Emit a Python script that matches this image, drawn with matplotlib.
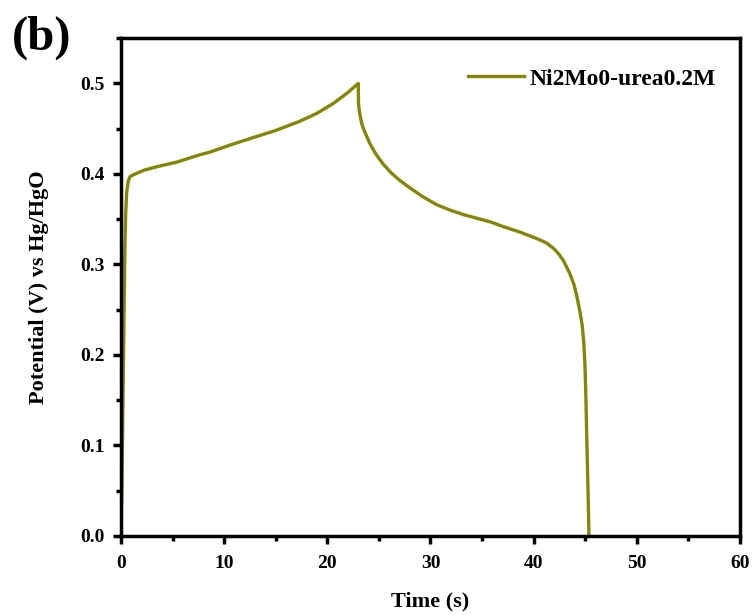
import matplotlib
matplotlib.use("Agg")
import matplotlib.pyplot as plt
from matplotlib.ticker import MultipleLocator

# Galvanostatic charge-discharge curve
time_s = [0.0, 0.08, 0.15, 0.22, 0.3, 0.38, 0.45, 0.55, 0.7, 0.87, 1.2, 1.6, 2.2,
          3.5, 5.4, 7.6, 8.6, 10.6, 12.5, 15.0, 17.3, 19.0, 20.6, 22.0, 23.0,
          23.02, 23.1, 23.2, 23.33, 23.5, 23.8, 24.13, 24.7, 25.4, 26.2, 27.0,
          28.2, 29.3, 30.6, 31.9, 33.2, 34.5, 35.8, 37.0, 38.6, 40.3, 41.2,
          41.9, 42.4, 42.9, 43.5, 43.9, 44.2, 44.5, 44.7, 44.85, 44.97, 45.06,
          45.14, 45.25, 45.3, 45.36]
potential_v = [0.0, 0.05, 0.11, 0.18, 0.25, 0.32, 0.355, 0.38, 0.392, 0.397, 0.399,
               0.401, 0.404, 0.408, 0.413, 0.421, 0.424, 0.432, 0.439, 0.448,
               0.458, 0.467, 0.478, 0.490, 0.500,
               0.478, 0.470, 0.463, 0.456, 0.450, 0.442, 0.4334, 0.422, 0.411,
               0.401, 0.393, 0.383, 0.3745, 0.366, 0.360, 0.355, 0.351, 0.347,
               0.342, 0.336, 0.3286, 0.324, 0.318, 0.312, 0.304, 0.290, 0.278,
               0.264, 0.247, 0.233, 0.215, 0.190, 0.155, 0.113, 0.06, 0.035, 0.0]

series_label = "Ni2Mo0-urea0.2M"
x_ticks = [0, 10, 20, 30, 40, 50, 60]
y_ticks = [0.0, 0.1, 0.2, 0.3, 0.4, 0.5]

plt.rcParams['font.family'] = ['Liberation Serif', 'DejaVu Serif']
plt.rcParams['font.weight'] = 'bold'

fig = plt.figure(figsize=(7.53, 6.15), dpi=100)
ax = fig.add_axes([0.1607, 0.1285, 0.822, 0.8095])

color = '#858508'
ax.plot(time_s, potential_v, color=color, lw=2.4, label=series_label)

ax.set_xlim(0, 60)
ax.set_ylim(0, 0.55)
ax.set_xticks(x_ticks)
ax.set_yticks(y_ticks)
ax.set_xticklabels([str(v) for v in x_ticks])
ax.set_yticklabels([f"{v:.1f}" for v in y_ticks])
ax.xaxis.set_minor_locator(MultipleLocator(5))
ax.yaxis.set_minor_locator(MultipleLocator(0.05))

for s in ax.spines.values():
    s.set_linewidth(2.5)
ax.tick_params(which='major', direction='out', length=6, width=2.5,
               labelsize=14)
ax.tick_params(axis='x', which='major', pad=8)
ax.tick_params(axis='y', which='major', pad=6)
ax.tick_params(which='minor', direction='out', length=3.5, width=2.5)
ax.tick_params(top=False, right=False, which='both')

ax.set_xlabel("Time (s)", fontsize=16, fontweight='bold', labelpad=14)
ax.set_ylabel("Potential (V) vs Hg/HgO", fontsize=16, fontweight='bold', labelpad=22)

leg = ax.legend(loc='upper left', bbox_to_anchor=(0.56, 0.94), frameon=False,
                fontsize=17, handlelength=2.4, handletextpad=0.22,
                borderpad=0, borderaxespad=0)

fig.text(0.016, 0.919, "(b)", fontsize=35, fontweight='bold', va='baseline')

fig.savefig("out.png", dpi=100)
